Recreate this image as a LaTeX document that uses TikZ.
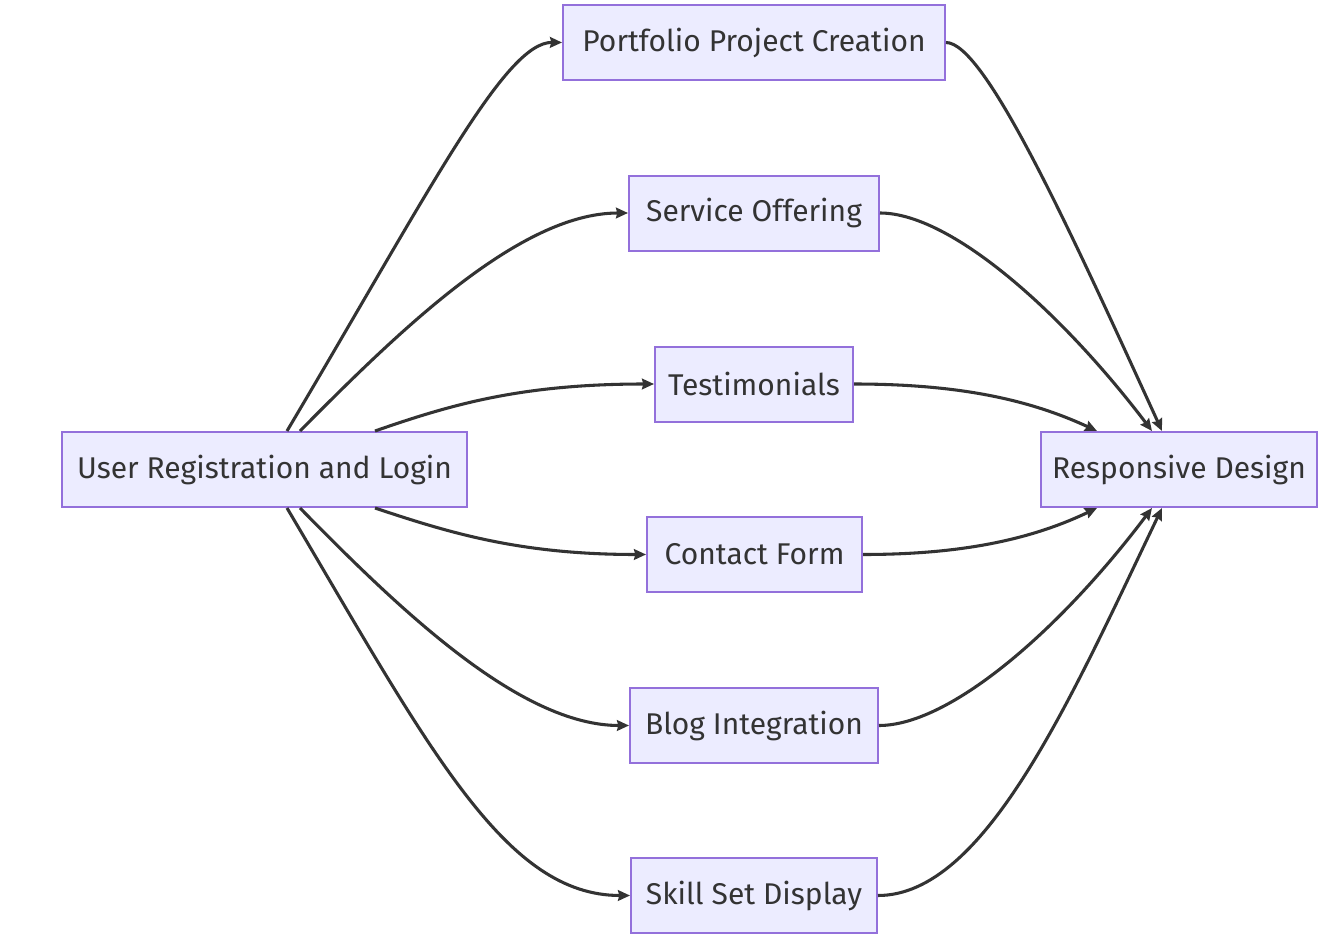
\documentclass[tikz,border=0pt]{standalone}
\usepackage{fontspec}
\setmainfont{Fira Sans}
\usetikzlibrary{calc,arrows.meta}
\definecolor{nodefill}{HTML}{ECECFF}
\definecolor{nodeline}{HTML}{9370DB}
\definecolor{txt}{HTML}{333333}
\definecolor{edge}{HTML}{333333}
\begin{document}
\begin{tikzpicture}[x=0.75pt,y=-0.75pt,
  box/.style={draw=nodeline,fill=nodefill,line width=1.5pt,minimum height=75*0.75pt,inner sep=0pt,text=txt,font=\fontsize{22.5}{27}\selectfont},
  link/.style={draw=edge,line width=2.3pt,-{Stealth[length=9pt,width=8pt,inset=1pt]}}]
\useasboundingbox[fill=white] (0,0) rectangle (1332,942);
\node[box,minimum width=405*0.75pt] (u) at (264.5,469.5) {User Registration and Login};
\node[box,minimum width=382*0.75pt] (p) at (754,42.5) {Portfolio Project Creation};
\node[box,minimum width=250*0.75pt] (s) at (754,213) {Service Offering};
\node[box,minimum width=198*0.75pt] (t) at (754,384) {Testimonials};
\node[box,minimum width=215*0.75pt] (c) at (754.5,554.5) {Contact Form};
\node[box,minimum width=248*0.75pt] (b) at (754,725.5) {Blog Integration};
\node[box,minimum width=246*0.75pt] (k) at (754,895.5) {Skill Set Display};
\node[box,minimum width=276*0.75pt] (r) at (1179,469.5) {Responsive Design};
% left edges
\draw[link] ($(u.north)+(22.5,0)$) .. controls (430,190) and (505,42) .. (p.west);
\draw[link] ($(u.north)+(35.5,0)$) .. controls (400,330) and (520,213) .. (s.west);
\draw[link] ($(u.north)+(110.5,0)$) .. controls (450,405) and (520,384) .. (t.west);
\draw[link] ($(u.south)+(110.5,0)$) .. controls (450,533) and (520,554.5) .. (c.west);
\draw[link] ($(u.south)+(35.5,0)$) .. controls (400,610) and (520,725.5) .. (b.west);
\draw[link] ($(u.south)+(22.5,0)$) .. controls (430,750) and (505,895.5) .. (k.west);
% right edges
\draw[link] (p.east) .. controls (985,42.5) and (1070,230) .. ($(r.north)+(-17,0)$);
\draw[link] (s.east) .. controls (950,213) and (1060,310) .. ($(r.north)+(-27,0)$);
\draw[link] (t.east) .. controls (960,384) and (1030,400) .. ($(r.north)+(-82,0)$);
\draw[link] (c.east) .. controls (960,554.5) and (1030,540) .. ($(r.south)+(-82,0)$);
\draw[link] (b.east) .. controls (950,725.5) and (1060,630) .. ($(r.south)+(-27,0)$);
\draw[link] (k.east) .. controls (985,895.5) and (1070,700) .. ($(r.south)+(-17,0)$);
\end{tikzpicture}
\end{document}
